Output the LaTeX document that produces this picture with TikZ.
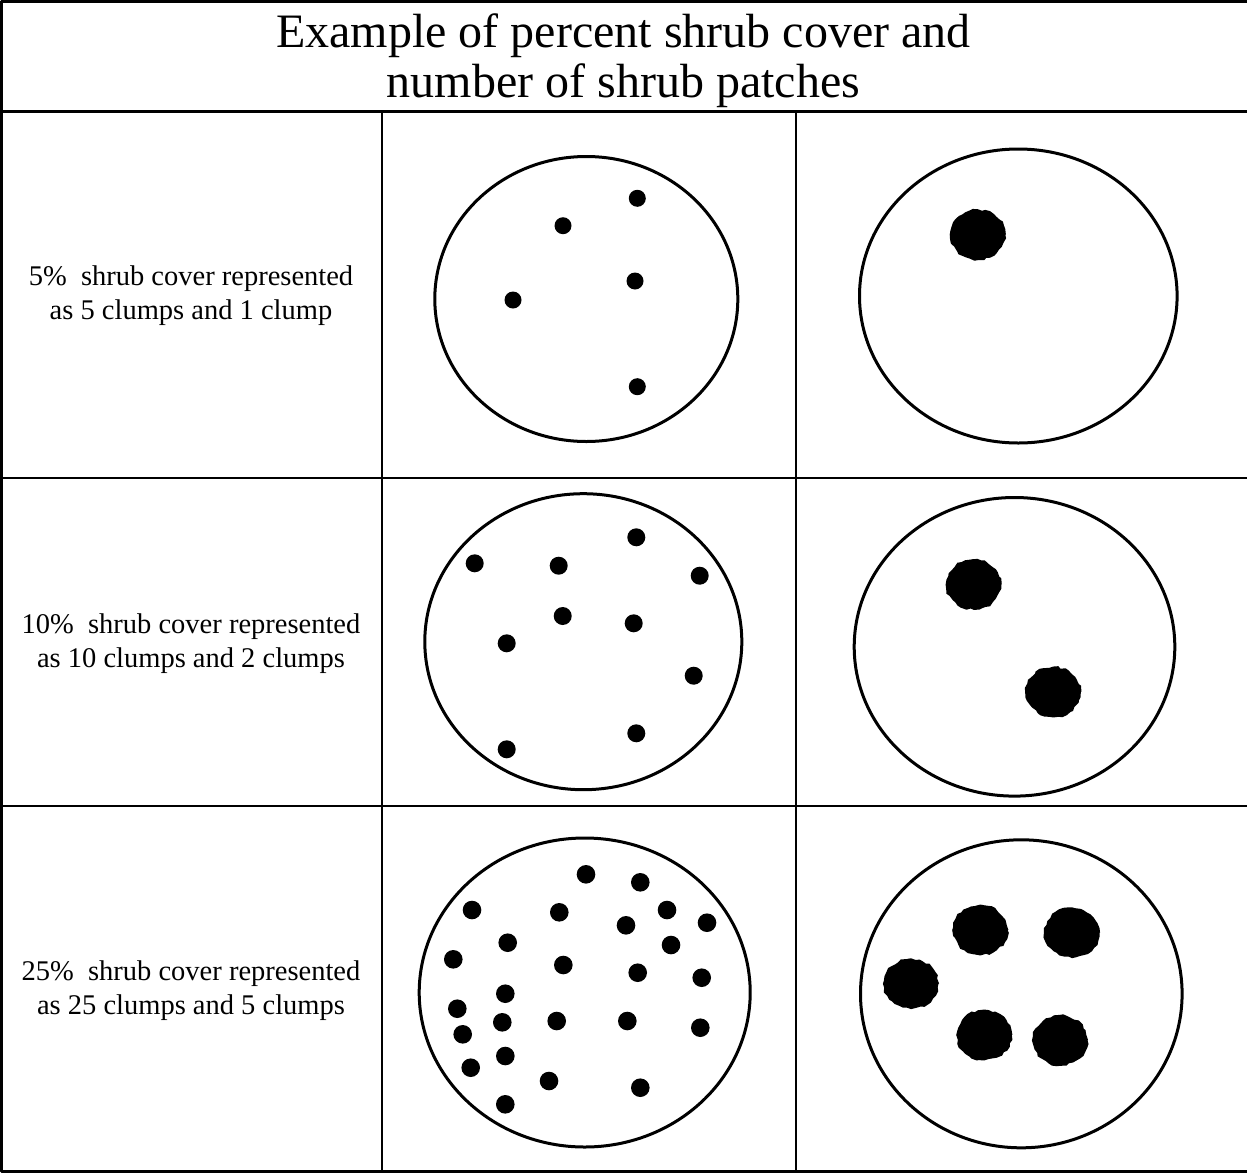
\documentclass[tikz,border=0pt]{standalone}
\usepackage{fontspec}
\setmainfont{Liberation Serif}
\usetikzlibrary{decorations.pathmorphing}

\tikzset{
  rim/.style={line width=3pt},
  blob/.style={fill=black, decorate, decoration={random steps, segment length=4pt, amplitude=1.2pt}},
  caption/.style={align=center, font=\fontsize{28.5}{34}\selectfont},
}

\begin{document}
\begin{tikzpicture}[x=1pt, y=-1pt, line cap=round, line join=round]
	\useasboundingbox (0,0) rectangle (1247,1173);
	% table
	\draw [line width=2.5pt] (1.5,1.5) rectangle (1252,1171.5);
	\draw [line width=3pt] (1.5,111.5) -- (1252,111.5);
	\draw [line width=2.5pt] (1.5,478) -- (1252,478);
	\draw [line width=2.5pt] (1.5,806) -- (1252,806);
	\draw [line width=2pt] (381.5,111.5) -- (381.5,1171.5);
	\draw [line width=2pt] (795.5,111.5) -- (795.5,1171.5);
	% title
	\node (title) [align=center, font=\fontsize{48}{50}\selectfont] at (623.5,61) {Example of percent shrub cover and\\number of shrub patches};
	% captions
	\node (capA) [caption] at (191,296) {5\%\ \ shrub cover represented\\as 5 clumps and 1 clump};
	\node (capB) [caption] at (191,644) {10\%\ \ shrub cover represented\\as 10 clumps and 2 clumps};
	\node (capC) [caption] at (191,990.5) {25\%\ \ shrub cover represented\\as 25 clumps and 5 clumps};
	% plots
	\coordinate (dotsA) at (586.3,299);
	\coordinate (dotsB) at (583.3,641.7);
	\coordinate (dotsC) at (584.7,992.5);
	\coordinate (clumpA) at (1018.3,296);
	\coordinate (clumpB) at (1014.5,646.8);
	\coordinate (clumpC) at (1021.3,993.8);
	\draw [rim] (dotsA) ellipse (151.5 and 142.5);
	\draw [rim] (dotsB) ellipse (158.5 and 148);
	\draw [rim] (dotsC) ellipse (165.5 and 154.5);
	\draw [rim] (clumpA) ellipse (158.8 and 147);
	\draw [rim] (clumpB) ellipse (160.3 and 149.3);
	\draw [rim] (clumpC) ellipse (160.8 and 154);
	% small clumps
	\foreach \x/\y in {637.3/198.3, 563/225.7, 635/281, 513/300, 637.3/386.7}
		\fill (\x,\y) circle (8.5);
	\foreach \x/\y in {636.3/537.3, 474.7/563.3, 558.7/565.7, 699.7/575.7, 562.7/616,
		633.7/623.3, 506.7/643.3, 693.7/675.7, 636.3/733.3, 506.7/749.3}
		\fill (\x,\y) circle (9);
	\foreach \x/\y in {586/874.3, 640.3/882.3, 472/910, 559.3/912.3, 667/910,
		626/925.3, 707/922.7, 507.7/942.7, 671/945, 453.3/959.3,
		563.3/965, 637.7/972.7, 701.7/977.7, 505.3/993.7, 457.3/1008.7,
		502.3/1022.3, 556.7/1021, 627.3/1021, 700.3/1027.7, 462.7/1034.3,
		505.3/1056, 470.7/1067.7, 549/1081, 640.3/1087.7, 505.3/1104.3}
		\fill (\x,\y) circle (9.3);
	% large clumps
	\foreach \x/\y in {977.8/234.7, 973.7/584.5, 1053.3/692,
		980.3/930, 1072/932.7, 911/983.7, 984.3/1035, 1060/1040.3}
		\path [blob] (\x,\y) ellipse (27.5 and 25);
\end{tikzpicture}
\end{document}
